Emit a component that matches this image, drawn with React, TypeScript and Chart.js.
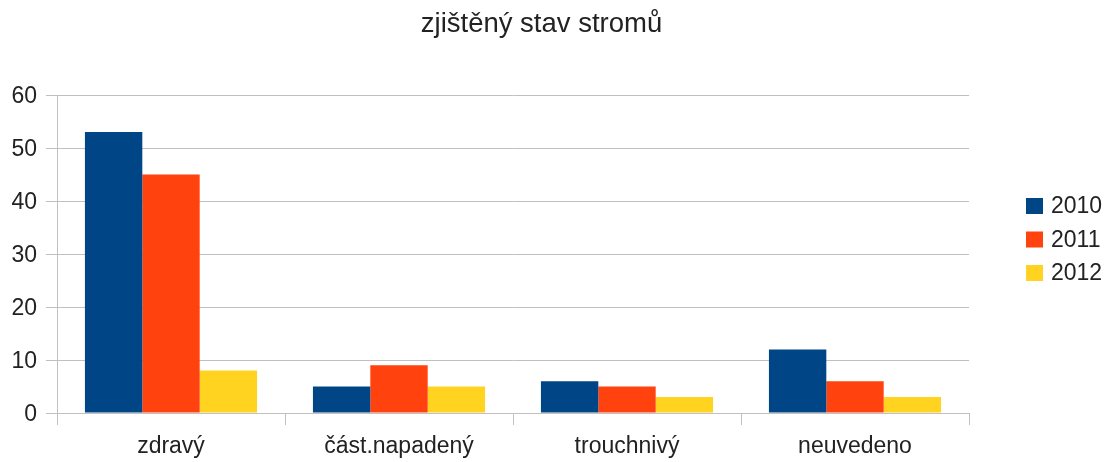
import React, { useEffect, useRef } from "react";
import { Chart, registerables } from "chart.js";

Chart.register(...registerables);

const title = "zjištěný stav stromů";
const categories = ["zdravý", "část.napadený", "trouchnivý", "neuvedeno"];
const seriesNames = ["2010", "2011", "2012"];
const values2010 = [53, 5, 6, 12];
const values2011 = [45, 9, 5, 6];
const values2012 = [8, 5, 3, 3];
const colors = ["#004586", "#ff420e", "#ffd320"];
const yMin = 0;
const yMax = 60;
const yStep = 10;

const FONT = "'Liberation Sans', Arial, sans-serif";
const TEXT = "#222222";
const GRID = "#c0c0c0";

const overlayPlugin = {
  id: "overlay",
  afterDraw(chart: any) {
    const ctx = chart.ctx;
    ctx.save();
    ctx.fillStyle = TEXT;
    ctx.font = `27.5px ${FONT}`;
    ctx.textAlign = "center";
    ctx.textBaseline = "alphabetic";
    ctx.fillText(title, 541.5, 32);
    // legend
    ctx.font = `23px ${FONT}`;
    const ds = chart.data.datasets;
    ds.forEach((d: any, i: number) => {
      const cy = 206 + i * 33.5;
      ctx.fillStyle = d.backgroundColor;
      ctx.fillRect(1026, cy - 8, 17, 16);
      ctx.fillStyle = TEXT;
      ctx.textAlign = "left";
      ctx.textBaseline = "middle";
      ctx.fillText(d.label, 1051, cy + 1);
    });
    ctx.restore();
  },
};

export default function App() {
  const ref = useRef<HTMLCanvasElement | null>(null);
  useEffect(() => {
    if (!ref.current) return;
    const series = [values2010, values2011, values2012];
    const chart = new Chart(ref.current, {
      type: "bar",
      data: {
        labels: categories,
        datasets: series.map((v, i) => ({
          label: seriesNames[i],
          data: v,
          backgroundColor: colors[i],
          borderWidth: 0,
          barPercentage: 1,
          categoryPercentage: 0.755,
        })),
      },
      options: {
        animation: false,
        responsive: false,
        maintainAspectRatio: false,
        layout: { padding: { left: 0, top: 95, right: 141, bottom: 0 } },
        plugins: {
          legend: { display: false },
          title: { display: false },
          tooltip: { enabled: false },
        },
        scales: {
          x: {
            offset: true,
            grid: {
              offset: true,
              drawOnChartArea: true,
              color: (c: any) => (c.index === categories.length ? GRID : "rgba(0,0,0,0)"),
              tickColor: GRID,
              tickLength: 12,
              lineWidth: 1,
            },
            border: { display: true, color: GRID },
            ticks: {
              color: TEXT,
              font: { family: FONT, size: 23 },
              padding: 8,
              maxRotation: 0,
              autoSkip: false,
            },
            afterFit: (s: any) => {
              s.height = 49;
            },
          },
          y: {
            min: yMin,
            max: yMax,
            grid: {
              color: GRID,
              tickColor: GRID,
              tickLength: 11,
              lineWidth: 1,
            },
            border: { display: true, color: GRID },
            ticks: {
              stepSize: yStep,
              color: TEXT,
              font: { family: FONT, size: 23 },
              padding: 9,
              labelOffset: 2,
            },
            afterFit: (s: any) => {
              s.width = 57;
            },
          },
        },
      },
      plugins: [overlayPlugin],
    });
    return () => chart.destroy();
  }, []);
  return (
    <div style={{ position: "absolute", left: 0, top: 0, width: 1110, height: 462, background: "#fff" }}>
      <canvas ref={ref} width={1110} height={462} style={{ display: "block" }} />
    </div>
  );
}
